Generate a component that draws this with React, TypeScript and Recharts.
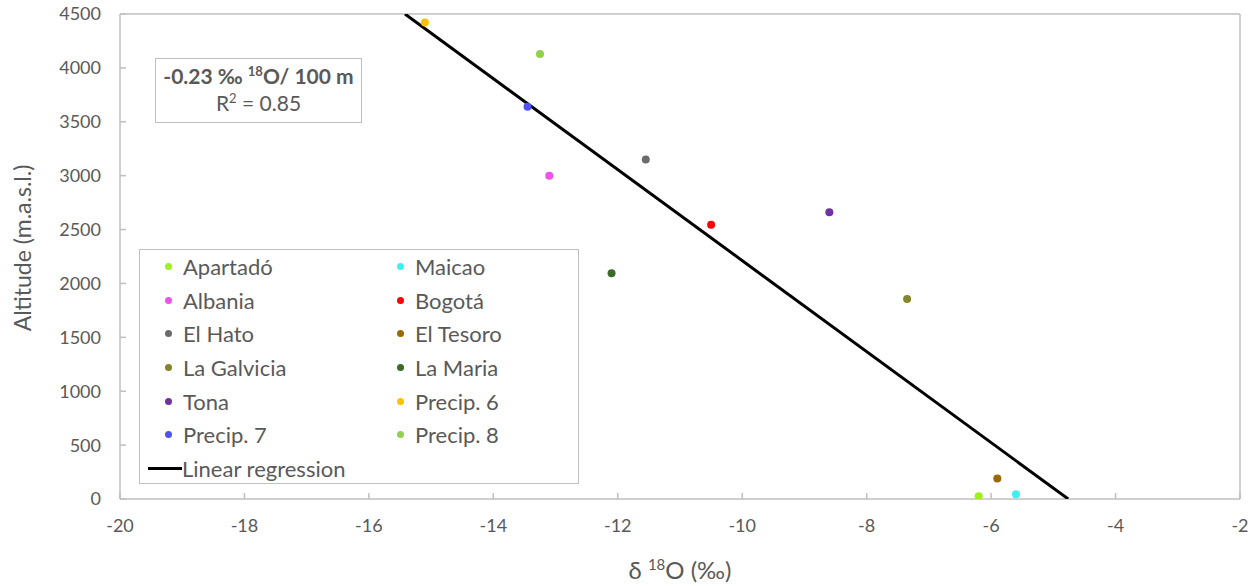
import React from 'react';
import {
  ScatterChart,
  Scatter,
  XAxis,
  YAxis,
  Legend,
  ReferenceLine,
} from 'recharts';

// station names, colours and measured points (δ18O ‰, altitude m)
const STATIONS = ['Apartadó', 'Maicao', 'Albania', 'Bogotá', 'El Hato', 'El Tesoro', 'La Galvicia', 'La Maria', 'Tona', 'Precip. 6', 'Precip. 7', 'Precip. 8'];
const COLORS = ['#9EF01E', '#3CF0F2', '#F052E8', '#FF0000', '#6B6B6B', '#9A6808', '#84842A', '#3D6A28', '#7032A2', '#FFC000', '#5252EE', '#92D050'];
const D18O = [-6.2, -5.6, -13.1, -10.5, -11.55, -5.9, -7.35, -12.1, -8.6, -15.1, -13.45, -13.25];
const ALTITUDE = [25, 45, 3000, 2545, 3150, 190, 1855, 2095, 2660, 4420, 3640, 4130];

// regression line end points
const REG_X = [-15.42, -4.76];
const REG_Y = [4500, 0];

const X_TICKS = [-20, -18, -16, -14, -12, -10, -8, -6, -4, -2];
const Y_TICKS = [0, 500, 1000, 1500, 2000, 2500, 3000, 3500, 4000, 4500];

const FONT = 'Lato, "Open Sans", sans-serif';
const TEXT = '#595959';
const AXIS = '#BFBFBF';

const series = STATIONS.map((name, i) => ({
  name,
  color: COLORS[i],
  data: [{ x: D18O[i], y: ALTITUDE[i] }],
}));
const regression = REG_X.map((x, i) => ({ x, y: REG_Y[i] }));

function LegendBox() {
  return (
    <div
      style={{
        border: '1.5px solid #BFBFBF',
        background: '#fff',
        width: 440,
        height: 235,
        boxSizing: 'border-box',
        padding: '0 0 0 8px',
        fontFamily: FONT,
        fontSize: 22,
        color: TEXT,
      }}
    >
      <div style={{ display: 'grid', gridTemplateColumns: '232px 200px' }}>
        {STATIONS.map((name, i) => (
          <div key={name} style={{ display: 'flex', alignItems: 'center', height: 33.6 }}>
            <span style={{ width: 7, height: 7, borderRadius: 4, background: COLORS[i], margin: '0 11px 0 17px' }} />
            <span>{name}</span>
          </div>
        ))}
      </div>
      <div style={{ display: 'flex', alignItems: 'center', height: 33.6 }}>
        <span style={{ width: 34, height: 3, background: '#000' }} />
        <span>Linear regression</span>
      </div>
    </div>
  );
}

function YTitle() {
  const cx = 22;
  const cy = 248;
  return (
    <text x={cx} y={cy} transform={`rotate(-90 ${cx} ${cy})`} textAnchor="middle" dominantBaseline="central" fill={TEXT} fontFamily={FONT} fontSize={23}>
      Altitude (m.a.s.l.)
    </text>
  );
}

function XTitle(props: any) {
  const { viewBox } = props;
  const cx = viewBox.x + viewBox.width / 2;
  return (
    <text x={cx} y={579} textAnchor="middle" fill={TEXT} fontFamily={FONT} fontSize={24}>
      <tspan>δ </tspan>
      <tspan fontSize={15} dy={-9}>18</tspan>
      <tspan dy={9}>O (‰)</tspan>
    </text>
  );
}

const dot = (color: string) => (p: any) => <circle cx={p.cx} cy={p.cy} r={4} fill={color} />;

export default function App() {
  return (
    <div style={{ position: 'absolute', left: 0, top: 0, width: 1257, height: 586, background: '#fff' }}>
      <ScatterChart width={1257} height={586} margin={{ top: 14, right: 17, bottom: 0, left: 0 }}>
        <XAxis
          type="number"
          dataKey="x"
          domain={[-20, -2]}
          ticks={X_TICKS}
          allowDataOverflow
          height={87}
          stroke={AXIS}
          strokeWidth={1.5}
          tickSize={-6}
          tickMargin={26}
          tick={{ fill: TEXT, fontSize: 18, fontFamily: FONT }}
          label={<XTitle />}
        />
        <YAxis
          type="number"
          dataKey="y"
          domain={[0, 4500]}
          ticks={Y_TICKS}
          allowDataOverflow
          width={120}
          stroke={AXIS}
          strokeWidth={1.5}
          tickSize={-6}
          tickMargin={25}
          tick={{ fill: TEXT, fontSize: 18, fontFamily: FONT }}
          label={<YTitle />}
        />
        <ReferenceLine y={4500} stroke={AXIS} strokeWidth={1.5} />
        <ReferenceLine x={-2} stroke={AXIS} strokeWidth={1.5} />
        <Scatter
          name="Linear regression"
          data={regression}
          line={{ stroke: '#000', strokeWidth: 3 }}
          shape={() => <g />}
          isAnimationActive={false}
        />
        {series.map((s) => (
          <Scatter key={s.name} name={s.name} data={s.data} fill={s.color} shape={dot(s.color)} isAnimationActive={false} />
        ))}
        <Legend
          layout="horizontal"
          verticalAlign="middle"
          align="center"
          content={() => <LegendBox />}
          wrapperStyle={{ position: 'absolute', left: 139, top: 249, width: 440, height: 235 }}
        />
      </ScatterChart>
      <div
        style={{
          position: 'absolute',
          left: 155,
          top: 58,
          width: 207,
          height: 65,
          boxSizing: 'border-box',
          border: '1.5px solid #BFBFBF',
          background: '#fff',
          fontFamily: FONT,
          color: TEXT,
          textAlign: 'center',
          fontSize: 21,
          lineHeight: '27px',
          paddingTop: 3,
        }}
      >
        <div style={{ fontWeight: 700 }}>
          -0.23 ‰ <sup style={{ fontSize: 13, verticalAlign: 'top', lineHeight: '18px' }}>18</sup>O/ 100 m
        </div>
        <div>
          R<sup style={{ fontSize: 13, verticalAlign: 'top', lineHeight: '18px' }}>2</sup> = 0.85
        </div>
      </div>
    </div>
  );
}
